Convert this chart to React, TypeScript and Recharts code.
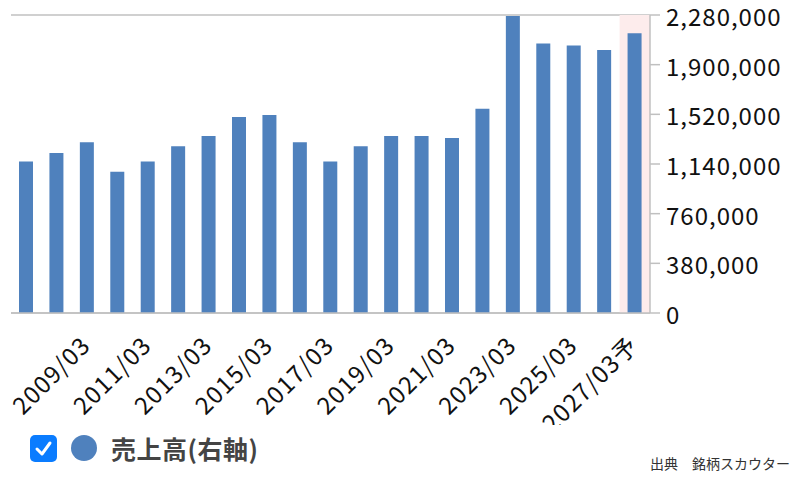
import {Bar, BarChart, CartesianGrid, ReferenceArea, XAxis, YAxis} from "recharts";

// 決算期
const periods = [
    "2007/03", "2008/03", "2009/03", "2010/03", "2011/03", "2012/03", "2013/03",
    "2014/03", "2015/03", "2016/03", "2017/03", "2018/03", "2019/03", "2020/03",
    "2021/03", "2022/03", "2023/03", "2024/03", "2025/03", "2026/03", "2027/03予",
];

// 売上高
const sales = [
    1160000, 1224000, 1306000, 1081000, 1160000, 1275000, 1354000,
    1499000, 1514000, 1306000, 1160000, 1275000, 1354000, 1354000,
    1339000, 1563000, 2273000, 2062000, 2046000, 2013000, 2141000,
];

const yTicks = [0, 380000, 760000, 1140000, 1520000, 1900000, 2280000];

const forecastPeriod = "2027/03予";

const chartData = periods.map((period, i) => ({period, sales: sales[i]}));

const FONT = '"Noto Sans CJK JP", "Noto Sans", sans-serif';
const BLUE = "#4f81bd";
const GRID = "#c0c0c0";

function XTick({x, y, payload, index}: any) {
    if (index % 2 !== 0 || index === 0) return null;
    return (
        <g transform={`translate(${x + 5},${y + 26})`}>
            <text
                fill="#111"
                fontFamily={FONT}
                fontSize={24}
                letterSpacing={1.2}
                textAnchor="end"
                transform="rotate(-45)"
            >
                {payload.value}
            </text>
        </g>
    );
}

function YTick({x, y, payload}: any) {
    return (
        <text
            dy={11}
            fill="#111"
            fontFamily={FONT}
            fontSize={24}
            letterSpacing={1}
            textAnchor="start"
            x={x}
            y={y}
        >
            {payload.value.toLocaleString("en-US")}
        </text>
    );
}

export default function App() {
    return (
        <div
            style={{
                position: "absolute",
                left: 0,
                top: 0,
                width: 800,
                height: 477,
                background: "#fff",
                fontFamily: FONT,
            }}
        >
            <div style={{width: 800, height: 425, overflow: "hidden"}}>
                <BarChart
                    data={chartData}
                    height={425}
                    margin={{top: 15, right: 0, bottom: 0, left: 11}}
                    width={800}
                >
                    <CartesianGrid stroke={GRID} strokeWidth={1.5} vertical={false}/>
                    <ReferenceArea
                        fill="#fdecec"
                        fillOpacity={1}
                        ifOverflow="extendDomain"
                        stroke="none"
                        x1={forecastPeriod}
                        x2={forecastPeriod}
                        yAxisId="right"
                    />
                    <XAxis
                        axisLine={{stroke: GRID, strokeWidth: 1.5}}
                        dataKey="period"
                        height={112}
                        interval={0}
                        tick={<XTick/>}
                        tickLine={false}
                    />
                    <YAxis
                        axisLine={{stroke: GRID, strokeWidth: 1.5}}
                        domain={[0, 2280000]}
                        orientation="right"
                        tick={<YTick/>}
                        tickLine={{stroke: GRID, strokeWidth: 1.5}}
                        tickMargin={6}
                        tickSize={10}
                        ticks={yTicks}
                        width={150}
                        yAxisId="right"
                    />
                    <Bar
                        barSize={14}
                        dataKey="sales"
                        fill={BLUE}
                        isAnimationActive={false}
                        yAxisId="right"
                    />
                </BarChart>
            </div>
            <div
                style={{
                    position: "absolute",
                    left: 30,
                    top: 435,
                    width: 27,
                    height: 27,
                    borderRadius: 5,
                    background: "#0a7cff",
                }}
            >
                <svg height={27} width={27}>
                    <path d="M7 14 L12 19 L20 8" fill="none" stroke="#fff" strokeLinecap="round"
                          strokeLinejoin="round" strokeWidth={3}/>
                </svg>
            </div>
            <div
                style={{
                    position: "absolute",
                    left: 71,
                    top: 435,
                    width: 26,
                    height: 26,
                    borderRadius: "50%",
                    background: BLUE,
                }}
            />
            <div
                style={{
                    position: "absolute",
                    left: 111,
                    top: 432,
                    fontSize: 25,
                    fontWeight: "bold",
                    color: "#444",
                    lineHeight: "32px",
                    letterSpacing: 0.5,
                    whiteSpace: "nowrap",
                }}
            >
                売上高(右軸)
            </div>
            <div
                style={{
                    position: "absolute",
                    left: 650,
                    top: 453,
                    fontSize: 14,
                    color: "#333",
                    lineHeight: "20px",
                    whiteSpace: "nowrap",
                }}
            >
                出典　銘柄スカウター
            </div>
        </div>
    );
}
